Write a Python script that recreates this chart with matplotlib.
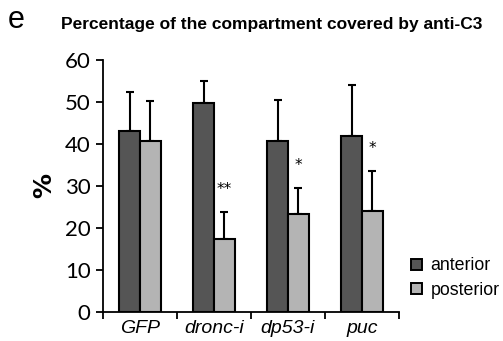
import matplotlib.pyplot as plt
import numpy as np
from matplotlib.patches import Patch

# values
groups = ["GFP", "dronc-i", "dp53-i", "puc"]
anterior = [43.0, 49.7, 40.8, 42.0]
anterior_err = [9.5, 5.2, 9.7, 12.0]
posterior = [40.8, 17.4, 23.4, 24.0]
posterior_err = [9.4, 6.5, 6.2, 9.6]
stars = ["", "**", "*", "*"]
yticks = [0, 10, 20, 30, 40, 50, 60]

fig = plt.figure(figsize=(5.03, 3.41), dpi=100)
ax = fig.add_axes([103 / 503, 29 / 341, 296 / 503, 252 / 341])

x = np.arange(len(groups))
w = 0.28
ax.bar(x - w / 2, anterior, w, color="#555555", edgecolor="black", linewidth=1.5, zorder=2)
ax.bar(x + w / 2, posterior, w, color="#b4b4b4", edgecolor="black", linewidth=1.5, zorder=2)
ax.errorbar(x - w / 2, anterior, yerr=[np.zeros(4), anterior_err], fmt="none",
            ecolor="black", elinewidth=1.5, capsize=3, capthick=1.5, zorder=1)
ax.errorbar(x + w / 2, posterior, yerr=[np.zeros(4), posterior_err], fmt="none",
            ecolor="black", elinewidth=1.5, capsize=3, capthick=1.5, zorder=1)

for i, s in enumerate(stars):
    if s:
        ax.text(x[i] + w / 2, posterior[i] + posterior_err[i] + 3.5, s, ha="center",
                va="bottom", fontsize=11, family="DejaVu Sans")

ax.set_xlim(-0.5, len(groups) - 0.5)
ax.set_ylim(0, 60)
ax.set_yticks(yticks)
ax.set_yticklabels([str(t) for t in yticks], fontsize=16, family="Lato")
ax.set_xticks(np.arange(len(groups) + 1) - 0.5)
ax.set_xticklabels([])
ax.tick_params(axis="both", direction="out", length=5, width=1.3)
ax.tick_params(axis="y", pad=4)
for i, g in enumerate(groups):
    ax.text(x[i], -2.0, g, ha="center", va="top", style="italic", fontsize=14,
            family="Liberation Sans")

for side in ["top", "right"]:
    ax.spines[side].set_visible(False)
for side in ["left", "bottom"]:
    ax.spines[side].set_linewidth(1.3)

ax.set_ylabel("%", fontsize=18, fontweight="bold", labelpad=6)

handles = [Patch(facecolor="#555555", edgecolor="black", linewidth=1.4),
           Patch(facecolor="#b4b4b4", edgecolor="black", linewidth=1.4)]
fig.legend(handles, ["anterior", "posterior"], loc="center left",
           bbox_to_anchor=(411 / 503, 1 - 278 / 341), frameon=False,
           borderaxespad=0, borderpad=0,
           prop={"family": "Liberation Sans", "size": 12.8}, handlelength=0.6,
           handleheight=0.6, handletextpad=0.5, labelspacing=0.4)

fig.text(8 / 503, 1 - 20 / 341, "e", fontsize=22, va="center", family="Liberation Sans")
fig.text(61 / 503, 1 - 25 / 341, "Percentage of the compartment covered by anti-C3",
         fontsize=12.5, fontweight="bold", va="center", family="Liberation Sans")

fig.savefig("out.png", dpi=100)
